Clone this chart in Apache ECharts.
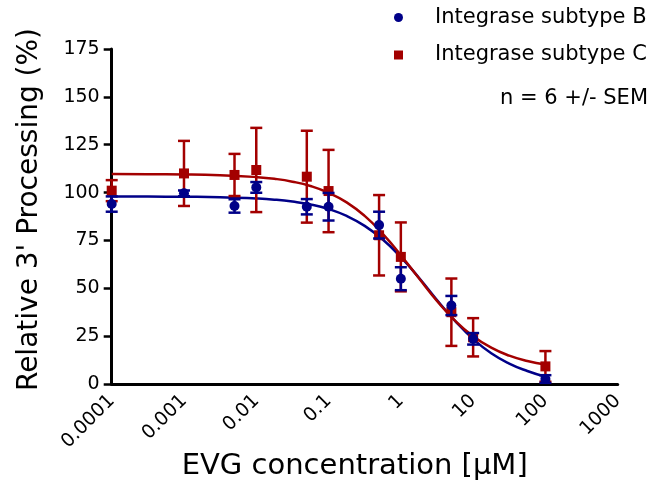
<!DOCTYPE html>
<html>
<head>
<meta charset="utf-8">
<script src="https://cdn.jsdelivr.net/npm/echarts@6/dist/echarts.min.js"></script>
<style>
html,body{margin:0;padding:0;background:#fff;}
#chart{width:667px;height:487px;}
</style>
</head>
<body>
<div id="chart"></div>
<script>
// ---- data ----
const concentrations = [0.0001, 0.001, 0.005, 0.01, 0.05, 0.1, 0.5, 1, 5, 10, 100];
const subtypeB = [94, 99.6, 93, 102.7, 92.6, 92.6, 83, 55, 41, 23.6, 2.6];
const subtypeBSem = [4, 1.5, 3.5, 2.8, 4, 7.2, 7, 6, 5, 3, 2];
const subtypeC = [101, 110, 109.2, 111.8, 108.3, 100.8, 77.7, 66.4, 37.5, 24.4, 9.2];
const subtypeCSem = [5.5, 17, 11, 22, 24, 21.5, 21, 18, 17.6, 10, 8];
// fitted curves
const curveX = [0.0001, 0.000316, 0.001, 0.00316, 0.01, 0.0178, 0.0316, 0.0562, 0.1, 0.178, 0.316, 0.562, 1, 1.78, 3.16, 5.62, 10, 17.8, 31.6, 56.2, 100];
const curveB = [98.0, 97.9, 97.8, 97.6, 96.9, 96.3, 95.3, 93.8, 91.4, 87.8, 82.6, 75.5, 66.3, 55.5, 43.9, 33.0, 23.5, 16.1, 10.7, 6.8, 3.8];
const curveC = [109.7, 109.6, 109.5, 109.1, 108.1, 107.2, 105.7, 103.4, 99.9, 94.9, 87.8, 78.4, 67.3, 55.2, 43.4, 33.1, 25.0, 19.0, 14.8, 12.0, 10.2];
const xTickLabels = ['0.0001', '0.001', '0.01', '0.1', '1', '10', '100', '1000'];
const yTicks = [0, 25, 50, 75, 100, 125, 150, 175];
const seriesNames = ['Integrase subtype B', 'Integrase subtype C'];
const noteText = 'n = 6 +/- SEM';
const xTitle = 'EVG concentration [\u03BCM]';
const yTitle = "Relative 3' Processing (%)";

const FONT = 'DejaVu Sans';
const colB = '#000088';
const colC = '#a30000';

function pairs(xs, ys) { return xs.map((x, i) => [x, ys[i]]); }
function errData(xs, ys, es) { return xs.map((x, i) => [x, ys[i] - es[i], ys[i] + es[i]]); }

function errRender(color) {
  return function (params, api) {
    const x = api.value(0);
    const lo = api.coord([x, api.value(1)]);
    const hi = api.coord([x, api.value(2)]);
    const half = 6;
    const style = { stroke: color, lineWidth: 2.5 };
    return {
      type: 'group',
      children: [
        { type: 'line', shape: { x1: lo[0], y1: lo[1], x2: hi[0], y2: hi[1] }, style: style },
        { type: 'line', shape: { x1: lo[0] - half, y1: lo[1], x2: lo[0] + half, y2: lo[1] }, style: style },
        { type: 'line', shape: { x1: hi[0] - half, y1: hi[1], x2: hi[0] + half, y2: hi[1] }, style: style }
      ]
    };
  };
}

const chart = echarts.init(document.getElementById('chart'), null, { renderer: 'canvas' });
chart.setOption({
  animation: false,
  backgroundColor: '#fff',
  title: {
    text: noteText,
    right: 19, top: 88, padding: 0,
    textStyle: { fontFamily: FONT, fontSize: 21, fontWeight: 'normal', color: '#000' }
  },
  legend: {
    orient: 'vertical', left: 394, top: 7, padding: 0,
    itemWidth: 9, itemHeight: 9, itemGap: 16.5,
    textStyle: { fontFamily: FONT, fontSize: 21, color: '#000', padding: [0, 0, 0, 27] },
    data: [{ name: seriesNames[0], icon: 'circle' }, { name: seriesNames[1], icon: 'rect' }]
  },
  grid: { left: 111.7, right: 49.3, top: 49, bottom: 103, containLabel: false, outerBoundsMode: 'none' },
  xAxis: {
    type: 'log', logBase: 10, min: 0.0001, max: 1000,
    name: xTitle, nameLocation: 'middle', nameGap: 68, nameMoveOverlap: false,
    nameTextStyle: { fontFamily: FONT, fontSize: 29, color: '#000', padding: [0, 20, 0, 0] },
    axisLine: { show: true, lineStyle: { color: '#000', width: 3 } },
    axisTick: { show: false },
    splitLine: { show: false },
    minorTick: { show: false },
    axisLabel: {
      rotate: 45, margin: 14, color: '#000', fontFamily: FONT, fontSize: 19,
      formatter: function (v) { const i = Math.round(Math.log10(v)) + 4; return xTickLabels[i] || ''; }
    }
  },
  yAxis: {
    type: 'value', min: yTicks[0], max: yTicks[yTicks.length - 1], interval: 25,
    name: yTitle, nameLocation: 'middle', nameGap: 68, nameMoveOverlap: false,
    nameTextStyle: { fontFamily: FONT, fontSize: 28, color: '#000', padding: [0, 0, 0, 14] },
    axisLine: { show: true, lineStyle: { color: '#000', width: 3 } },
    axisTick: { show: true, inside: false, length: 8, lineStyle: { color: '#000', width: 2.5 } },
    splitLine: { show: false },
    axisLabel: { margin: 12, color: '#000', fontFamily: FONT, fontSize: 19 }
  },
  series: [
    { type: 'line', name: 'fitB', data: pairs(curveX, curveB), smooth: true, showSymbol: false, symbol: 'none',
      lineStyle: { color: colB, width: 2.5 }, z: 2, silent: true, legendHoverLink: false },
    { type: 'line', name: 'fitC', data: pairs(curveX, curveC), smooth: true, showSymbol: false, symbol: 'none',
      lineStyle: { color: colC, width: 2.5 }, z: 2, silent: true, legendHoverLink: false },
    { type: 'custom', name: 'errC', data: errData(concentrations, subtypeC, subtypeCSem), renderItem: errRender(colC),
      encode: { x: 0, y: [1, 2] }, z: 3, clip: false },
    { type: 'scatter', name: seriesNames[1], data: pairs(concentrations, subtypeC), symbol: 'rect', symbolSize: 10,
      itemStyle: { color: colC, opacity: 1 }, z: 4 },
    { type: 'custom', name: 'errB', data: errData(concentrations, subtypeB, subtypeBSem), renderItem: errRender(colB),
      encode: { x: 0, y: [1, 2] }, z: 5, clip: false },
    { type: 'scatter', name: seriesNames[0], data: pairs(concentrations, subtypeB), symbol: 'circle', symbolSize: 10,
      itemStyle: { color: colB, opacity: 1 }, z: 6 }
  ]
});
</script>
</body>
</html>
